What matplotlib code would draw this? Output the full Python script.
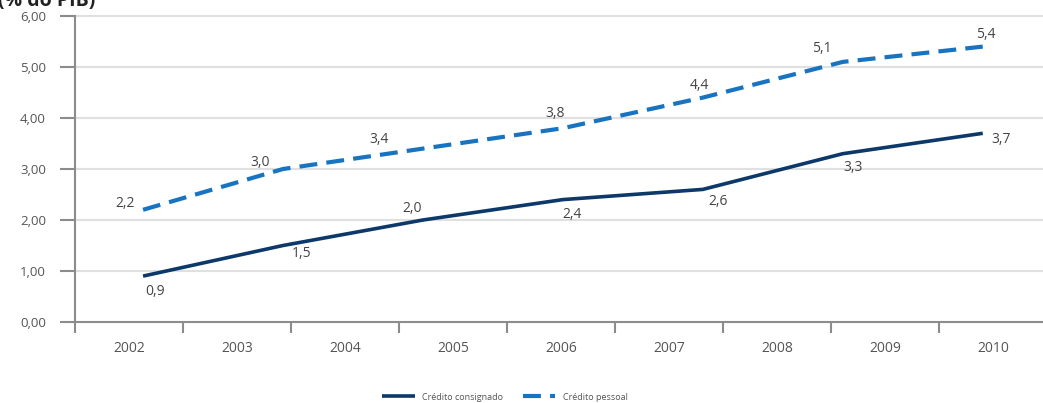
import numpy as np
from matplotlib import pyplot as plt

# Dados (% do PIB)
anos = ['2002', '2003', '2004', '2005', '2006', '2007', '2008', '2009', '2010']
consignado = [0.9, 1.5, 2.0, 2.4, 2.6, 3.3, 3.7]
pessoal = [2.2, 3.0, 3.4, 3.8, 4.4, 5.1, 5.4]
yticks = [0, 1, 2, 3, 4, 5, 6]

# deslocamentos dos rótulos (pixels)
off_cons = [(12, -15), (19, -8), (-11, 12), (9, -15), (15, -12), (10, -14), (18, -6)]
off_pess = [(-18, 6), (-23, 6), (-44, 9), (-8, 15), (-3, 12), (-21, 13), (3, 12)]

cor_cons = '#0c386a'
cor_pess = '#1874c1'
cinza = '#8c8c8c'

plt.rcParams['font.family'] = ['Open Sans', 'DejaVu Sans']

fig = plt.figure(figsize=(10.43, 4.03), dpi=100)
ax = fig.add_axes([75 / 1043, 81 / 403, 972 / 1043, 306 / 403])

# os pontos ocupam posições igualmente espaçadas sobre o eixo de categorias
xs = np.linspace(0.13, 7.905, len(consignado))

ax.plot(xs, consignado, color=cor_cons, lw=2.6, solid_capstyle='butt',
        label='Crédito consignado', zorder=3)
ax.plot(xs, pessoal, color=cor_pess, lw=3, dashes=(4.3, 2.2),
        label='Crédito pessoal', zorder=3)

for x, v, (dx, dy) in zip(xs, consignado, off_cons):
    ax.annotate(f'{v:.1f}'.replace('.', ','), (x, v), xytext=(dx * 0.72, dy * 0.72),
                textcoords='offset points', ha='center', va='center',
                fontsize=10, color='#444444')
for x, v, (dx, dy) in zip(xs, pessoal, off_pess):
    ax.annotate(f'{v:.1f}'.replace('.', ','), (x, v), xytext=(dx * 0.72, dy * 0.72),
                textcoords='offset points', ha='center', va='center',
                fontsize=10, color='#444444')

ax.set_xlim(-0.5, 8.5)
ax.set_ylim(0, 6)

ax.set_yticks(yticks)
ax.set_yticklabels([f'{t:.2f}'.replace('.', ',') for t in yticks])
ax.tick_params(axis='y', direction='out', length=11, width=1.5, color=cinza,
               labelsize=9.5, labelcolor='#555555', pad=10)

ax.set_xticks(np.arange(-0.5, 9, 1))
ax.set_xticklabels([])
ax.set_xticks(np.arange(9), minor=True)
ax.set_xticklabels(anos, minor=True)
ax.tick_params(axis='x', which='major', direction='out', length=8, width=1.5, color=cinza)
ax.tick_params(axis='x', which='minor', length=0, labelsize=10,
               labelcolor='#555555', pad=14)

for y in yticks[1:]:
    ax.axhline(y, color='#e0e0e0', lw=1.5, zorder=1, clip_on=False)

for s in ['top', 'right']:
    ax.spines[s].set_visible(False)
for s in ['left', 'bottom']:
    ax.spines[s].set_color(cinza)
    ax.spines[s].set_linewidth(1.5)

fig.text(-0.002, 1 - 6 / 403, '(% do PIB)', fontsize=14, fontweight='bold',
         color='#222222', va='baseline', ha='left')

fig.legend(loc='center', bbox_to_anchor=(0.484, 6 / 403), ncol=2, frameon=False,
           fontsize=6.5, handlelength=3.6, columnspacing=2.2,
           labelcolor='#555555')

fig.savefig('out.png', dpi=100)
